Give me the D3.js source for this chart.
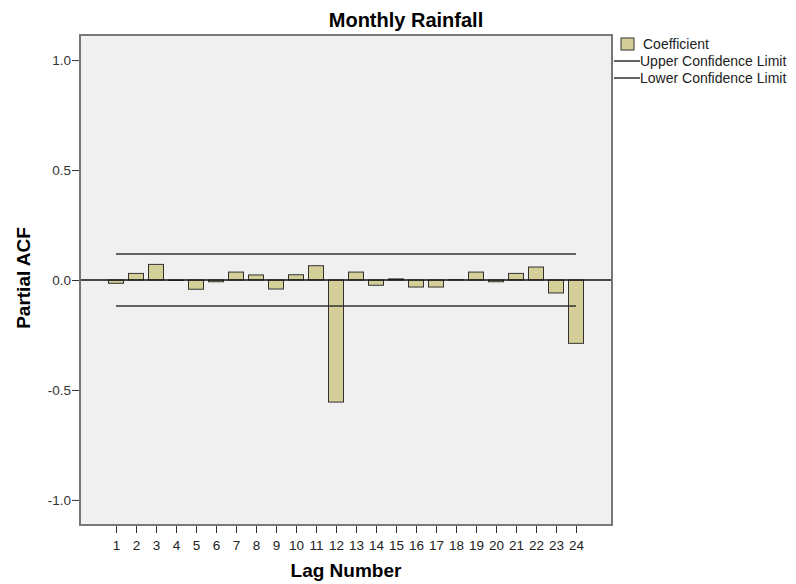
<!DOCTYPE html>
<html>
<head>
<meta charset="utf-8">
<script src="https://cdn.jsdelivr.net/npm/d3@7"></script>
<style>
  body { margin: 0; background: #fff; }
  svg text { font-family: "Liberation Sans", Arial, sans-serif; }
</style>
</head>
<body>
<svg width="796" height="584"></svg>
<script>
// data
var lags = d3.range(1, 25);
var pacf = [-0.015, 0.03, 0.071, -0.002, -0.042, -0.008, 0.036, 0.023, -0.041, 0.024, 0.065, -0.555,
            0.036, -0.024, 0.005, -0.032, -0.032, 0.001, 0.036, -0.008, 0.03, 0.059, -0.059, -0.288];
var upperLimit = 0.118;
var lowerLimit = -0.118;
var yTicks = [-1.0, -0.5, 0.0, 0.5, 1.0];
var legendItems = ['Coefficient', 'Upper Confidence Limit', 'Lower Confidence Limit'];

var svg = d3.select('svg');
var pLeft = 80, pRight = 612, pTop = 35, pBottom = 525;

var x = d3.scaleLinear().domain([1, 24]).range([116, 576]);
var y = d3.scaleLinear().domain([-1.114, 1.114]).range([pBottom, pTop]);

// plot background
svg.append('rect')
  .attr('x', pLeft).attr('y', pTop)
  .attr('width', pRight - pLeft).attr('height', pBottom - pTop)
  .attr('fill', '#f0f0f0');

// bars
var bw = 15;
svg.append('g').selectAll('rect')
  .data(lags)
  .enter().append('rect')
  .attr('x', function(d) { return x(d) - bw / 2; })
  .attr('width', bw)
  .attr('y', function(d, i) { return y(Math.max(0, pacf[i])); })
  .attr('height', function(d, i) { return Math.abs(y(pacf[i]) - y(0)); })
  .attr('fill', '#d4cf98')
  .attr('stroke', '#333')
  .attr('stroke-width', 1);

// zero line
svg.append('line')
  .attr('x1', pLeft).attr('x2', pRight)
  .attr('y1', y(0)).attr('y2', y(0))
  .attr('stroke', '#111').attr('stroke-width', 1.3);

// confidence limits
[upperLimit, lowerLimit].forEach(function(v) {
  svg.append('line')
    .attr('x1', x(1)).attr('x2', x(24))
    .attr('y1', y(v)).attr('y2', y(v))
    .attr('stroke', '#333').attr('stroke-width', 1.5);
});

// frame
svg.append('rect')
  .attr('x', pLeft).attr('y', pTop)
  .attr('width', pRight - pLeft).attr('height', pBottom - pTop)
  .attr('fill', 'none')
  .attr('stroke', '#777').attr('stroke-width', 2);

// y axis
var yAxis = svg.append('g').attr('transform', 'translate(' + (pLeft - 1) + ',0)')
  .call(d3.axisLeft(y).tickValues(yTicks).tickFormat(function(d) { return d.toFixed(1); }).tickSize(7).tickSizeOuter(0));
yAxis.select('.domain').remove();
yAxis.selectAll('line').attr('stroke', '#333');
yAxis.selectAll('text').attr('font-size', 13.5).attr('fill', '#333').attr('dx', 2);

// x axis
var xAxis = svg.append('g').attr('transform', 'translate(0,' + (pBottom + 1) + ')')
  .call(d3.axisBottom(x).tickValues(lags).tickFormat(d3.format('d')).tickSize(7).tickSizeOuter(0));
xAxis.select('.domain').remove();
xAxis.selectAll('line').attr('stroke', '#333');
xAxis.selectAll('text').attr('font-size', 13.5).attr('fill', '#222').attr('dy', '1.0em');

// titles
svg.append('text').attr('x', 406).attr('y', 27)
  .attr('text-anchor', 'middle').attr('font-size', 20).attr('font-weight', 'bold')
  .text('Monthly Rainfall');
svg.append('text').attr('x', 346).attr('y', 577)
  .attr('text-anchor', 'middle').attr('font-size', 19).attr('font-weight', 'bold')
  .text('Lag Number');
svg.append('text')
  .attr('transform', 'translate(30,278) rotate(-90)')
  .attr('text-anchor', 'middle').attr('font-size', 19).attr('font-weight', 'bold')
  .text('Partial ACF');

// legend
var lg = svg.append('g');
lg.append('rect').attr('x', 621).attr('y', 38).attr('width', 13).attr('height', 12)
  .attr('fill', '#d4cf98').attr('stroke', '#333');
[61, 78].forEach(function(yy) {
  lg.append('line').attr('x1', 614).attr('x2', 640).attr('y1', yy).attr('y2', yy)
    .attr('stroke', '#333').attr('stroke-width', 1.5);
});
lg.selectAll('text').data(legendItems).enter().append('text')
  .attr('x', function(d, i) { return i === 0 ? 643 : 640; })
  .attr('y', function(d, i) { return 49 + i * 17; })
  .attr('font-size', 14).attr('fill', '#222')
  .text(function(d) { return d; });
</script>
</body>
</html>
